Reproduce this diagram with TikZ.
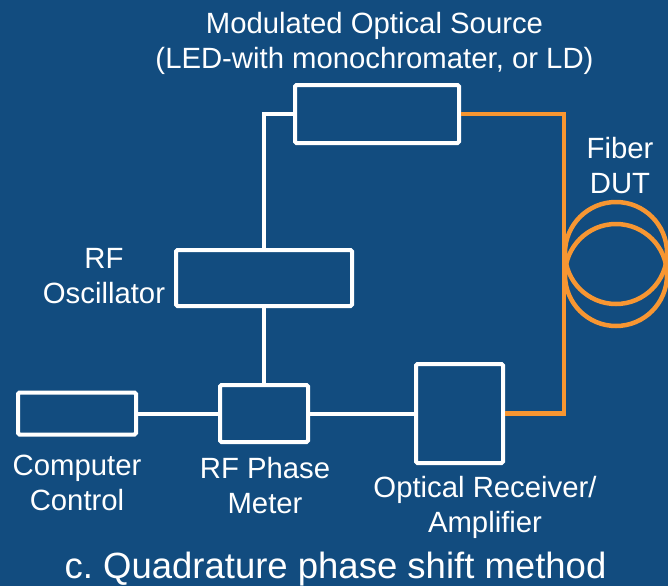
\documentclass[tikz,border=0pt]{standalone}
\usepackage{fontspec}
\setmainfont{Liberation Sans}
\usetikzlibrary{positioning}
\definecolor{slideblue}{RGB}{18,76,127}
\definecolor{fiberorange}{RGB}{247,150,50}
\frenchspacing

\begin{document}
\begin{tikzpicture}[
  x=1pt, y=-1pt,
  font=\fontsize{29.3}{34.5}\selectfont,
  box/.style={draw=white, line width=4pt, rounded corners=1.5pt, inner sep=0pt},
  coil/.style={circle, draw=fiberorange, line width=4.5pt, minimum size=102pt, inner sep=0pt},
  wire/.style={white, line width=4pt},
  fiber/.style={fiberorange, line width=4.5pt},
  lbl/.style={text=white, align=center, inner sep=0pt, anchor=base}
]
  \fill[slideblue] (0,0) rectangle (668,586);
  \useasboundingbox (0,0) rectangle (668,586);

  % boxes
  \node[box, minimum width=164pt, minimum height=58pt] (source) at (377,114) {};
  \node[box, minimum width=176pt, minimum height=56pt] (osc) at (264,278) {};
  \node[box, minimum width=118pt, minimum height=42pt] (computer) at (77,413.5) {};
  \node[box, minimum width=88pt, minimum height=57pt] (meter) at (264,413.5) {};
  \node[box, minimum width=87pt, minimum height=99pt] (receiver) at (459.5,413.5) {};

  % fiber coil
  \node[coil] (coilup) at (616,253) {};
  \node[coil] (coildown) at (616,275) {};
  \coordinate (fiberside) at (564,263);

  % connections
  \draw[wire] (source.west) -| (osc.north);
  \draw[wire] (osc) -- (meter);
  \draw[wire] (computer) -- (meter);
  \draw[wire] (meter) -- (receiver);
  \draw[fiber] (source.east) -| (fiberside) |- (receiver.east);

  % labels (anchored at the baseline of the last line)
  \node[lbl] (sourcelbl) at (374.5,68.3) {Modulated Optical Source\\(LED-with monochromater, or LD)};
  \node[lbl] (osclbl) at (104,303) {RF\\Oscillator};
  \node[lbl] (fiberlbl) at (620,193) {Fiber\\DUT};
  \node[lbl] (computerlbl) at (77,510) {Computer\\Control};
  \node[lbl] (meterlbl) at (265,513) {RF Phase\\Meter};
  \node[lbl] (receiverlbl) at (485,532) {Optical Receiver/\\Amplifier};
  \node[lbl, font=\fontsize{36.5}{40}\selectfont] (title) at (335.5,578) {c. Quadrature phase shift method};
\end{tikzpicture}
\end{document}
